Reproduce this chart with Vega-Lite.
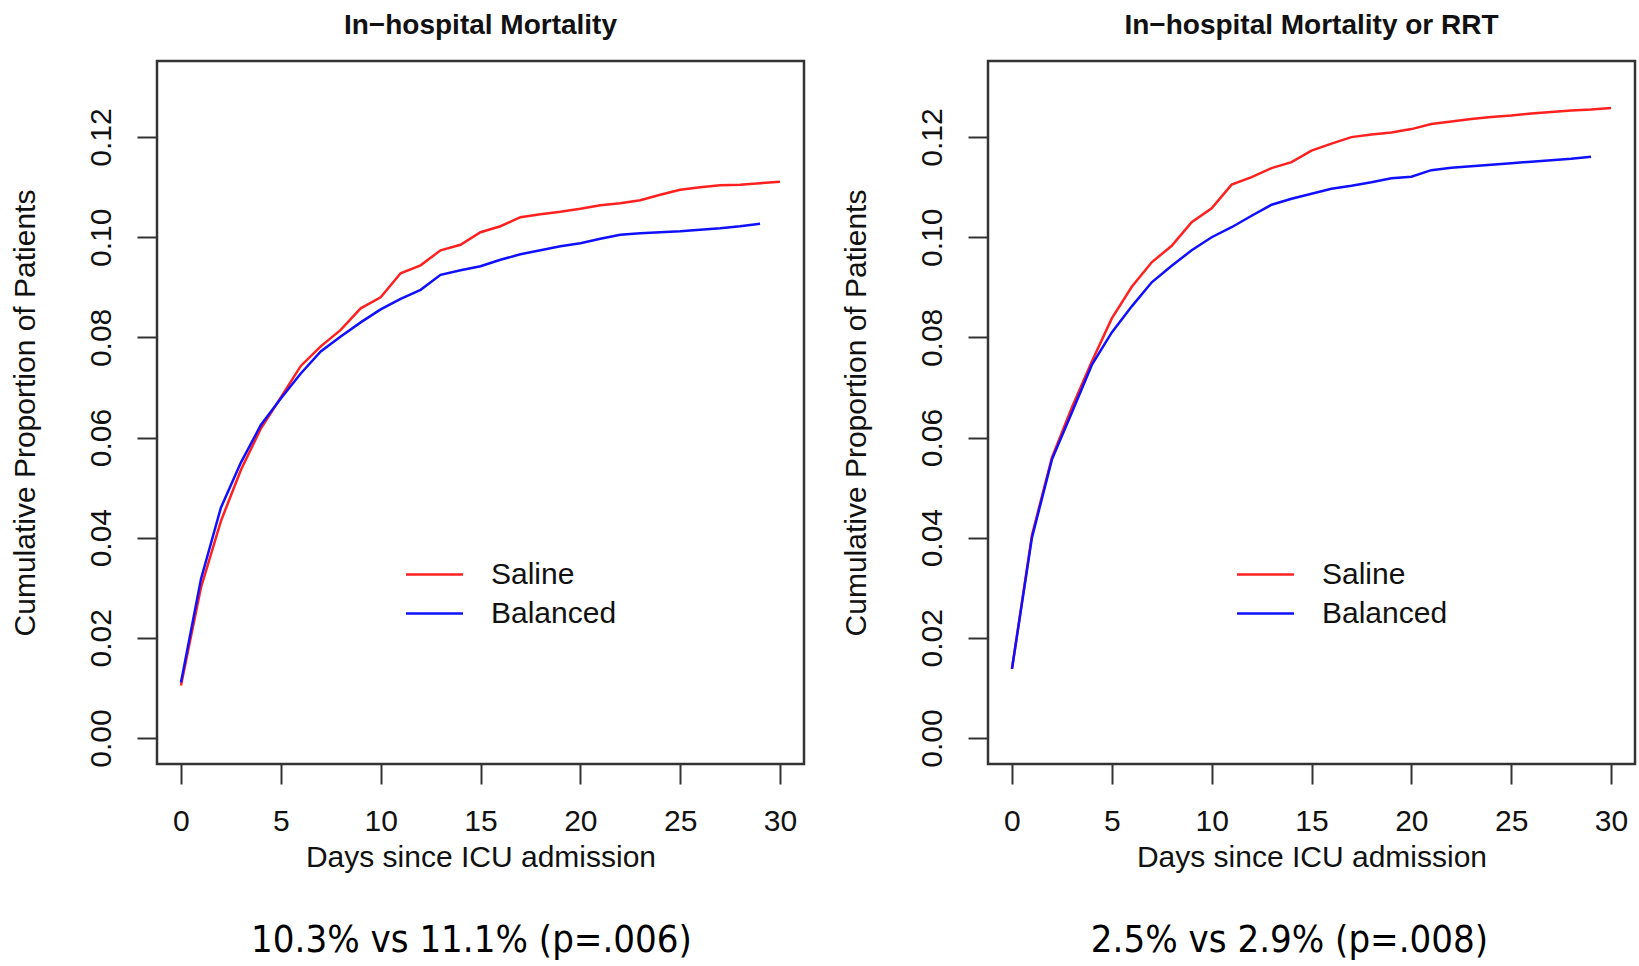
{
  "$schema": "https://vega.github.io/schema/vega-lite/v6.json",
  "background": "white",
  "padding": {"left": 8, "top": 10, "right": 0, "bottom": 0},
  "columns": 2,
  "spacing": {"row": 165, "column": 184},
  "bounds": "flush",
  "datasets": {
    "mort": [
      {"group": "Saline", "day": 0, "p": 0.0105},
      {"group": "Saline", "day": 1, "p": 0.030},
      {"group": "Saline", "day": 2, "p": 0.0433},
      {"group": "Saline", "day": 3, "p": 0.0535},
      {"group": "Saline", "day": 4, "p": 0.0618},
      {"group": "Saline", "day": 5, "p": 0.0680},
      {"group": "Saline", "day": 6, "p": 0.0743},
      {"group": "Saline", "day": 7, "p": 0.0782},
      {"group": "Saline", "day": 8, "p": 0.0815},
      {"group": "Saline", "day": 9, "p": 0.0858},
      {"group": "Saline", "day": 10, "p": 0.0880},
      {"group": "Saline", "day": 11, "p": 0.0928},
      {"group": "Saline", "day": 12, "p": 0.0944},
      {"group": "Saline", "day": 13, "p": 0.0974},
      {"group": "Saline", "day": 14, "p": 0.0985},
      {"group": "Saline", "day": 15, "p": 0.1010},
      {"group": "Saline", "day": 16, "p": 0.1022},
      {"group": "Saline", "day": 17, "p": 0.1040},
      {"group": "Saline", "day": 18, "p": 0.1046},
      {"group": "Saline", "day": 19, "p": 0.1051},
      {"group": "Saline", "day": 20, "p": 0.1057},
      {"group": "Saline", "day": 21, "p": 0.1064},
      {"group": "Saline", "day": 22, "p": 0.1068},
      {"group": "Saline", "day": 23, "p": 0.1074},
      {"group": "Saline", "day": 24, "p": 0.1085},
      {"group": "Saline", "day": 25, "p": 0.1095},
      {"group": "Saline", "day": 26, "p": 0.1100},
      {"group": "Saline", "day": 27, "p": 0.1104},
      {"group": "Saline", "day": 28, "p": 0.1105},
      {"group": "Saline", "day": 29, "p": 0.1108},
      {"group": "Saline", "day": 30, "p": 0.1111},
      {"group": "Balanced", "day": 0, "p": 0.0111},
      {"group": "Balanced", "day": 1, "p": 0.0317},
      {"group": "Balanced", "day": 2, "p": 0.0460},
      {"group": "Balanced", "day": 3, "p": 0.0550},
      {"group": "Balanced", "day": 4, "p": 0.0625},
      {"group": "Balanced", "day": 5, "p": 0.0678},
      {"group": "Balanced", "day": 6, "p": 0.0728},
      {"group": "Balanced", "day": 7, "p": 0.0772},
      {"group": "Balanced", "day": 8, "p": 0.0802},
      {"group": "Balanced", "day": 9, "p": 0.0830},
      {"group": "Balanced", "day": 10, "p": 0.0856},
      {"group": "Balanced", "day": 11, "p": 0.0877},
      {"group": "Balanced", "day": 12, "p": 0.0895},
      {"group": "Balanced", "day": 13, "p": 0.0925},
      {"group": "Balanced", "day": 14, "p": 0.0934},
      {"group": "Balanced", "day": 15, "p": 0.0942},
      {"group": "Balanced", "day": 16, "p": 0.0955},
      {"group": "Balanced", "day": 17, "p": 0.0966},
      {"group": "Balanced", "day": 18, "p": 0.0974},
      {"group": "Balanced", "day": 19, "p": 0.0982},
      {"group": "Balanced", "day": 20, "p": 0.0988},
      {"group": "Balanced", "day": 21, "p": 0.0997},
      {"group": "Balanced", "day": 22, "p": 0.1005},
      {"group": "Balanced", "day": 23, "p": 0.1008},
      {"group": "Balanced", "day": 24, "p": 0.1010},
      {"group": "Balanced", "day": 25, "p": 0.1012},
      {"group": "Balanced", "day": 26, "p": 0.1015},
      {"group": "Balanced", "day": 27, "p": 0.1018},
      {"group": "Balanced", "day": 28, "p": 0.1022},
      {"group": "Balanced", "day": 29, "p": 0.1027}
    ],
    "rrt": [
      {"group": "Saline", "day": 0, "p": 0.0138},
      {"group": "Saline", "day": 1, "p": 0.0405},
      {"group": "Saline", "day": 2, "p": 0.0560},
      {"group": "Saline", "day": 3, "p": 0.0660},
      {"group": "Saline", "day": 4, "p": 0.0752},
      {"group": "Saline", "day": 5, "p": 0.0838},
      {"group": "Saline", "day": 6, "p": 0.0901},
      {"group": "Saline", "day": 7, "p": 0.0950},
      {"group": "Saline", "day": 8, "p": 0.0983},
      {"group": "Saline", "day": 9, "p": 0.1030},
      {"group": "Saline", "day": 10, "p": 0.1058},
      {"group": "Saline", "day": 11, "p": 0.1105},
      {"group": "Saline", "day": 12, "p": 0.1120},
      {"group": "Saline", "day": 13, "p": 0.1138},
      {"group": "Saline", "day": 14, "p": 0.1150},
      {"group": "Saline", "day": 15, "p": 0.1173},
      {"group": "Saline", "day": 16, "p": 0.1187},
      {"group": "Saline", "day": 17, "p": 0.1200},
      {"group": "Saline", "day": 18, "p": 0.1205},
      {"group": "Saline", "day": 19, "p": 0.1209},
      {"group": "Saline", "day": 20, "p": 0.1216},
      {"group": "Saline", "day": 21, "p": 0.1226},
      {"group": "Saline", "day": 22, "p": 0.1231},
      {"group": "Saline", "day": 23, "p": 0.1236},
      {"group": "Saline", "day": 24, "p": 0.1240},
      {"group": "Saline", "day": 25, "p": 0.1243},
      {"group": "Saline", "day": 26, "p": 0.1247},
      {"group": "Saline", "day": 27, "p": 0.1250},
      {"group": "Saline", "day": 28, "p": 0.1253},
      {"group": "Saline", "day": 29, "p": 0.1255},
      {"group": "Saline", "day": 30, "p": 0.1258},
      {"group": "Balanced", "day": 0, "p": 0.0138},
      {"group": "Balanced", "day": 1, "p": 0.0400},
      {"group": "Balanced", "day": 2, "p": 0.0556},
      {"group": "Balanced", "day": 3, "p": 0.0650},
      {"group": "Balanced", "day": 4, "p": 0.0745},
      {"group": "Balanced", "day": 5, "p": 0.0810},
      {"group": "Balanced", "day": 6, "p": 0.0862},
      {"group": "Balanced", "day": 7, "p": 0.0910},
      {"group": "Balanced", "day": 8, "p": 0.0943},
      {"group": "Balanced", "day": 9, "p": 0.0974},
      {"group": "Balanced", "day": 10, "p": 0.1000},
      {"group": "Balanced", "day": 11, "p": 0.1020},
      {"group": "Balanced", "day": 12, "p": 0.1043},
      {"group": "Balanced", "day": 13, "p": 0.1065},
      {"group": "Balanced", "day": 14, "p": 0.1077},
      {"group": "Balanced", "day": 15, "p": 0.1087},
      {"group": "Balanced", "day": 16, "p": 0.1097},
      {"group": "Balanced", "day": 17, "p": 0.1103},
      {"group": "Balanced", "day": 18, "p": 0.1110},
      {"group": "Balanced", "day": 19, "p": 0.1118},
      {"group": "Balanced", "day": 20, "p": 0.1121},
      {"group": "Balanced", "day": 21, "p": 0.1134},
      {"group": "Balanced", "day": 22, "p": 0.1139},
      {"group": "Balanced", "day": 23, "p": 0.1142},
      {"group": "Balanced", "day": 24, "p": 0.1145},
      {"group": "Balanced", "day": 25, "p": 0.1148},
      {"group": "Balanced", "day": 26, "p": 0.1151},
      {"group": "Balanced", "day": 27, "p": 0.1154},
      {"group": "Balanced", "day": 28, "p": 0.1157},
      {"group": "Balanced", "day": 29, "p": 0.1161}
    ],
    "capL": [{"caption": "10.3% vs 11.1% (p=.006)"}],
    "capR": [{"caption": "2.5% vs 2.9% (p=.008)"}]
  },
  "concat": [
    {
      "width": 647, "height": 703,
      "title": {"text": "In−hospital Mortality", "offset": -1, "baseline": "alphabetic"},
      "data": {"name": "mort"},
      "mark": {"type": "line", "strokeWidth": 2.5},
      "encoding": {
        "x": {"field": "day", "type": "quantitative", "title": "Days since ICU admission",
              "scale": {"domain": [-1.2, 31.2], "nice": false, "zero": false},
              "axis": {"values": [0, 5, 10, 15, 20, 25, 30]}},
        "y": {"field": "p", "type": "quantitative", "title": "Cumulative Proportion of Patients",
              "scale": {"domain": [-0.0052, 0.1352], "nice": false, "zero": false},
              "axis": {"values": [0, 0.02, 0.04, 0.06, 0.08, 0.10, 0.12], "format": ".2f"}},
        "color": {"field": "group", "type": "nominal", "sort": ["Saline", "Balanced"],
                  "scale": {"domain": ["Saline", "Balanced"], "range": ["#ff2020", "#1010ff"]},
                  "legend": {"orient": "none", "legendX": 262, "legendY": 498}},
        "order": {"field": "day", "type": "quantitative"}
      }
    },
    {
      "width": 647, "height": 703,
      "title": {"text": "In−hospital Mortality or RRT", "offset": -1, "baseline": "alphabetic"},
      "data": {"name": "rrt"},
      "mark": {"type": "line", "strokeWidth": 2.5},
      "encoding": {
        "x": {"field": "day", "type": "quantitative", "title": "Days since ICU admission",
              "scale": {"domain": [-1.2, 31.2], "nice": false, "zero": false},
              "axis": {"values": [0, 5, 10, 15, 20, 25, 30]}},
        "y": {"field": "p", "type": "quantitative", "title": "Cumulative Proportion of Patients",
              "scale": {"domain": [-0.0052, 0.1352], "nice": false, "zero": false},
              "axis": {"values": [0, 0.02, 0.04, 0.06, 0.08, 0.10, 0.12], "format": ".2f"}},
        "color": {"field": "group", "type": "nominal", "sort": ["Saline", "Balanced"],
                  "scale": {"domain": ["Saline", "Balanced"], "range": ["#ff2020", "#1010ff"]},
                  "legend": {"orient": "none", "legendX": 262, "legendY": 498}},
        "order": {"field": "day", "type": "quantitative"}
      }
    },
    {
      "width": 647, "height": 24,
      "view": {"stroke": null},
      "data": {"name": "capL"},
      "mark": {"type": "text", "font": "DejaVu Sans Condensed, Liberation Sans", "fontSize": 38, "baseline": "middle", "align": "center", "color": "black", "dx": -9},
      "encoding": {"text": {"field": "caption", "type": "nominal"}}
    },
    {
      "width": 647, "height": 24,
      "view": {"stroke": null},
      "data": {"name": "capR"},
      "mark": {"type": "text", "font": "DejaVu Sans Condensed, Liberation Sans", "fontSize": 38, "baseline": "middle", "align": "center", "color": "black", "dx": -22},
      "encoding": {"text": {"field": "caption", "type": "nominal"}}
    }
  ],
  "resolve": {"scale": {"color": "independent", "x": "independent", "y": "independent"}, "legend": {"color": "independent"}},
  "config": {
    "view": {"stroke": "#333333", "strokeWidth": 2.5},
    "axis": {
      "grid": false, "domain": false,
      "tickColor": "#333333", "tickWidth": 2, "tickSize": 20,
      "labelFont": "Liberation Sans", "labelFontSize": 30, "labelColor": "#111111",
      "labelFlush": false, "labelOverlap": false,
      "titleFont": "Liberation Sans", "titleFontSize": 30, "titleFontWeight": "normal", "titleColor": "#111111"
    },
    "axisX": {"labelPadding": 22, "titlePadding": 6},
    "axisY": {"labelAngle": -90, "labelAlign": "center", "labelBaseline": "bottom", "labelPadding": 21, "titlePadding": 46},
    "title": {"font": "Liberation Sans", "fontSize": 28, "fontWeight": "bold", "anchor": "middle", "color": "#111111"},
    "legend": {
      "title": null, "padding": 0,
      "symbolType": "M-2,0H2", "symbolSize": 812, "symbolStrokeWidth": 2.5,
      "labelFont": "Liberation Sans", "labelFontSize": 30, "labelColor": "#111111",
      "labelOffset": 41, "rowPadding": 8
    }
  }
}
